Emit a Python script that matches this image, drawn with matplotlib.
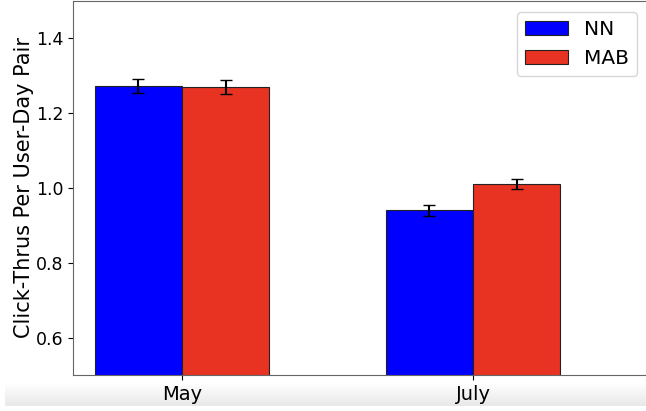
import numpy as np
import matplotlib.pyplot as plt

months = ['May', 'July']
nn_vals = [1.273, 0.940]
nn_err = [0.018, 0.014]
mab_vals = [1.270, 1.010]
mab_err = [0.019, 0.013]

W, H = 646, 411
fig = plt.figure(figsize=(W / 100, H / 100), dpi=100)

# faint grey band along the bottom edge (white at top, light grey at bottom)
band = fig.add_axes([5 / W, 5 / H, 1 - 5 / W, 22 / H], zorder=-1)
shade = np.linspace(0.91, 1.0, 50)
rgb = np.repeat(shade[:, None, None], 3, axis=2)
band.imshow(rgb, aspect='auto', extent=[0, 1, 0, 1], origin='lower')
band.axis('off')

# axes runs off the right edge of the figure
ax = fig.add_axes([73 / W, 36 / H, 640 / W, 374 / H])
x = np.arange(len(months))
width = 0.3
ax.bar(x - width / 2, nn_vals, width, yerr=nn_err, capsize=4.3, color='#0000ff',
       edgecolor='#222222', linewidth=0.8, label='NN')
ax.bar(x + width / 2, mab_vals, width, yerr=mab_err, capsize=4.3, color='#e83323',
       edgecolor='#222222', linewidth=0.8, label='MAB')

ax.set_ylim(0.5, 1.5)
ax.set_xlim(-0.375, 1.825)
ax.set_xticks(x)
ax.set_xticklabels(months, fontsize=14)
ax.set_yticks([0.6, 0.8, 1.0, 1.2, 1.4])
ax.tick_params(axis='y', labelsize=12.5)
ax.set_ylabel('Click-Thrus Per User-Day Pair', fontsize=15, labelpad=1)
for s in ax.spines.values():
    s.set_color('#666666')

ax.legend(fontsize=14.5, loc='upper left', bbox_to_anchor=(0.694, 0.971),
          borderaxespad=0, handlelength=2.1, handleheight=0.75)

plt.savefig('out.png', dpi=100)
